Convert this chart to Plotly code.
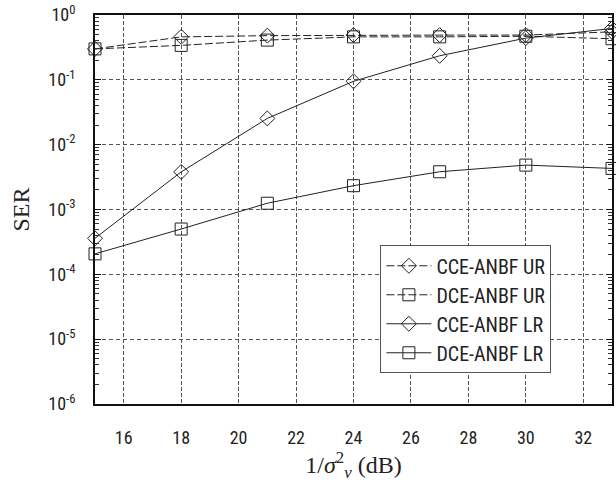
import plotly.graph_objects as go

snr_db = [15, 18, 21, 24, 27, 30, 33]
cce_ur = [0.30, 0.46, 0.48, 0.49, 0.49, 0.49, 0.55]
dce_ur = [0.30, 0.34, 0.41, 0.46, 0.46, 0.47, 0.43]
cce_lr = [3.6e-4, 3.8e-3, 0.0254, 0.095, 0.235, 0.44, 0.62]
dce_lr = [2.07e-4, 5.0e-4, 1.25e-3, 2.33e-3, 3.82e-3, 4.84e-3, 4.3e-3]

series_names = ["CCE-ANBF UR", "DCE-ANBF UR", "CCE-ANBF LR", "DCE-ANBF LR"]
x_ticks = [16, 18, 20, 22, 24, 26, 28, 30, 32]
y_tick_vals = [1e0, 1e-1, 1e-2, 1e-3, 1e-4, 1e-5, 1e-6]
y_tick_text = ["10<sup>0</sup>", "10<sup>-1</sup>", "10<sup>-2</sup>", "10<sup>-3</sup>",
               "10<sup>-4</sup>", "10<sup>-5</sup>", "10<sup>-6</sup>"]

narrow = "Liberation Sans Narrow, Arial Narrow, Roboto Condensed, Liberation Sans, sans-serif"
serif = "Liberation Serif, Times New Roman, DejaVu Serif, serif"
ink = "#222222"

fig = go.Figure()
styles = [
    (cce_ur, "diamond-open", "8px,3px", 11.5),
    (dce_ur, "square-open", "8px,3px", 12),
    (cce_lr, "diamond-open", "solid", 11.5),
    (dce_lr, "square-open", "solid", 12),
]
for name, (vals, sym, dash, ms) in zip(series_names, styles):
    fig.add_trace(go.Scatter(
        x=snr_db, y=vals, name=name, mode="lines+markers",
        line=dict(color=ink, width=1, dash=dash),
        marker=dict(symbol=sym, size=ms, color=ink, line=dict(width=1, color=ink)),
        cliponaxis=False,
    ))

fig.update_layout(
    width=616, height=493,
    margin=dict(l=95, r=2, t=13, b=89),
    paper_bgcolor="white", plot_bgcolor="white",
    font=dict(family=narrow, size=18, color=ink),
    showlegend=True,
    legend=dict(
        x=0.552, y=0.079, xanchor="left", yanchor="bottom",
        bgcolor="white", bordercolor="#555555", borderwidth=1,
        font=dict(family=narrow, size=20, color=ink),
        itemwidth=45, tracegroupgap=0,
    ),
    xaxis=dict(
        range=[15, 33], tickvals=x_ticks, ticks="",
        showline=True, linecolor="#111111", linewidth=2, mirror=True,
        showgrid=True, gridcolor="#555555", gridwidth=1, griddash="4px,2px",
        zeroline=False,
        tickfont=dict(family=narrow, size=18, color=ink),
        ticklabelstandoff=16,
        title=dict(text="1/<i>σ</i><sup>2</sup><sub><i>v</i></sub> (dB)",
                   font=dict(family=serif, size=24, color=ink), standoff=8),
    ),
    yaxis=dict(
        type="log", range=[-6, 0],
        tickvals=y_tick_vals, ticktext=y_tick_text,
        ticks="inside", ticklen=6, tickcolor="#111111",
        showline=True, linecolor="#111111", linewidth=2, mirror="allticks",
        showgrid=True, gridcolor="#555555", gridwidth=1, griddash="4px,3px",
        zeroline=False,
        minor=dict(ticks="inside", ticklen=4, tickcolor="#333333", dtick="D1", showgrid=False),
        tickfont=dict(family=narrow, size=18, color=ink),
        ticklabelstandoff=14, ticklabeloverflow="allow",
        title=dict(text="SER", font=dict(family=serif, size=24, color=ink), standoff=12),
    ),
)

fig.write_html("out.html")
